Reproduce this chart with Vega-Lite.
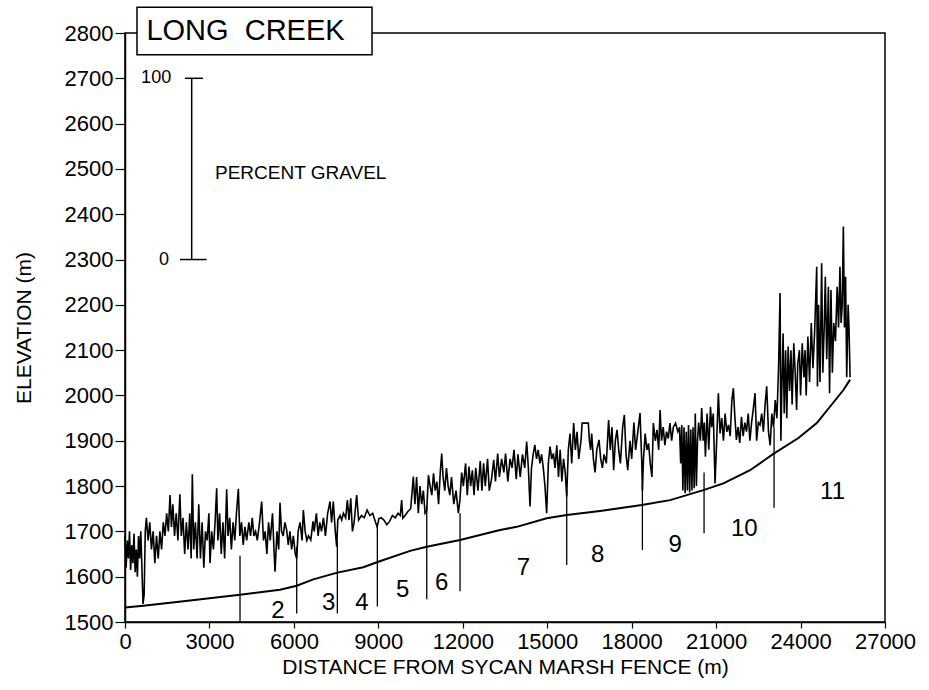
{
  "$schema": "https://vega.github.io/schema/vega-lite/v6.json",
  "autosize": "none",
  "width": 760,
  "height": 589,
  "padding": {"left": 125, "top": 33, "right": 44, "bottom": 68},
  "background": "white",
  "config": {
    "font": "Liberation Sans",
    "view": {"stroke": "black", "strokeWidth": 1.5},
    "axis": {"grid": false, "domainColor": "black", "tickColor": "black", "labelColor": "black", "titleColor": "black", "labelFont": "Liberation Sans", "titleFont": "Liberation Sans", "labelFontSize": 22, "titleFontSize": 21, "titleFontWeight": "normal", "domainWidth": 1.5, "tickWidth": 1.2}
  },
  "datasets": {
    "trace": [
      {"d":0,"e":1690},{"d":40,"e":1620},{"d":80,"e":1680},{"d":120,"e":1640},{"d":160,"e":1700},{"d":200,"e":1615},{"d":240,"e":1670},{"d":280,"e":1630},{"d":320,"e":1695},{"d":360,"e":1610},{"d":400,"e":1660},{"d":440,"e":1600},{"d":480,"e":1690},{"d":520,"e":1640},{"d":560,"e":1700},{"d":600,"e":1620},{"d":640,"e":1540},{"d":680,"e":1560},{"d":720,"e":1700},
      {"d":760,"e":1730},{"d":820,"e":1680},{"d":880,"e":1720},{"d":940,"e":1660},{"d":1000,"e":1700},{"d":1060,"e":1630},{"d":1120,"e":1690},{"d":1180,"e":1640},{"d":1240,"e":1700},{"d":1300,"e":1660},{"d":1360,"e":1720},{"d":1420,"e":1690},{"d":1480,"e":1740},{"d":1540,"e":1700},{"d":1600,"e":1780},{"d":1650,"e":1710},{"d":1700,"e":1760},{"d":1760,"e":1690},{"d":1820,"e":1740},{"d":1880,"e":1680},{"d":1950,"e":1782},{"d":2000,"e":1690},
      {"d":2060,"e":1730},{"d":2120,"e":1650},{"d":2180,"e":1720},{"d":2240,"e":1660},{"d":2300,"e":1740},{"d":2350,"e":1640},{"d":2392,"e":1826},{"d":2440,"e":1660},{"d":2500,"e":1720},{"d":2560,"e":1640},{"d":2620,"e":1760},{"d":2680,"e":1640},{"d":2740,"e":1720},{"d":2800,"e":1620},{"d":2860,"e":1700},{"d":2920,"e":1680},{"d":2980,"e":1740},{"d":3020,"e":1630},{"d":3080,"e":1700},{"d":3140,"e":1660},{"d":3200,"e":1720},{"d":3257,"e":1795},{"d":3300,"e":1680},{"d":3360,"e":1740},{"d":3420,"e":1650},{"d":3480,"e":1720},{"d":3540,"e":1640},{"d":3612,"e":1793},{"d":3660,"e":1690},{"d":3720,"e":1730},{"d":3780,"e":1660},{"d":3840,"e":1720},{"d":3900,"e":1680},{"d":3960,"e":1740},{"d":4027,"e":1794},{"d":4080,"e":1690},{"d":4140,"e":1720},{"d":4200,"e":1670},{"d":4260,"e":1710},{"d":4323,"e":1680},
      {"d":4400,"e":1720},{"d":4460,"e":1690},{"d":4520,"e":1730},{"d":4580,"e":1690},{"d":4640,"e":1700},{"d":4700,"e":1680},{"d":4780,"e":1720},{"d":4856,"e":1766},{"d":4920,"e":1680},{"d":4980,"e":1700},{"d":5040,"e":1650},{"d":5100,"e":1720},{"d":5160,"e":1680},{"d":5240,"e":1740},{"d":5300,"e":1650},{"d":5330,"e":1611},{"d":5400,"e":1700},{"d":5460,"e":1660},{"d":5507,"e":1763},{"d":5560,"e":1700},{"d":5620,"e":1690},{"d":5680,"e":1720},{"d":5744,"e":1703},{"d":5800,"e":1670},{"d":5860,"e":1700},{"d":5920,"e":1660},{"d":5980,"e":1690},{"d":6050,"e":1650},{"d":6100,"e":1640},
      {"d":6150,"e":1700},{"d":6220,"e":1720},{"d":6290,"e":1680},{"d":6336,"e":1747},{"d":6400,"e":1700},{"d":6460,"e":1680},{"d":6520,"e":1690},{"d":6600,"e":1681},{"d":6680,"e":1722},{"d":6720,"e":1700},{"d":6800,"e":1740},{"d":6860,"e":1690},{"d":6920,"e":1720},{"d":6980,"e":1700},{"d":7050,"e":1730},{"d":7120,"e":1690},{"d":7200,"e":1740},{"d":7283,"e":1766},{"d":7340,"e":1720},{"d":7400,"e":1766},{"d":7470,"e":1700},{"d":7520,"e":1666},{"d":7560,"e":1725},{"d":7640,"e":1735},{"d":7700,"e":1725},{"d":7760,"e":1740},{"d":7840,"e":1730},{"d":7900,"e":1769},{"d":7960,"e":1725},{"d":8020,"e":1773},{"d":8080,"e":1700},{"d":8140,"e":1720},{"d":8230,"e":1780},{"d":8300,"e":1725},{"d":8400,"e":1735},{"d":8500,"e":1730},{"d":8600,"e":1747},{"d":8700,"e":1735},{"d":8800,"e":1740},{"d":8900,"e":1720},{"d":8960,"e":1710},{"d":9020,"e":1728},{"d":9100,"e":1730},{"d":9200,"e":1725},{"d":9300,"e":1715},{"d":9400,"e":1722},{"d":9500,"e":1735},{"d":9600,"e":1730},{"d":9700,"e":1740},{"d":9780,"e":1735},{"d":9828,"e":1769},{"d":9870,"e":1729},{"d":9950,"e":1735},{"d":10050,"e":1744},{"d":10150,"e":1750},{"d":10243,"e":1821},
      {"d":10300,"e":1760},{"d":10360,"e":1820},{"d":10420,"e":1740},{"d":10480,"e":1800},{"d":10540,"e":1760},{"d":10600,"e":1790},{"d":10660,"e":1740},{"d":10718,"e":1745},{"d":10780,"e":1824},{"d":10840,"e":1800},{"d":10900,"e":1780},{"d":10960,"e":1828},{"d":11020,"e":1790},{"d":11080,"e":1810},{"d":11140,"e":1760},{"d":11200,"e":1830},{"d":11251,"e":1872},{"d":11300,"e":1820},{"d":11360,"e":1790},{"d":11420,"e":1840},{"d":11480,"e":1800},{"d":11540,"e":1780},{"d":11600,"e":1820},{"d":11680,"e":1760},{"d":11760,"e":1790},{"d":11843,"e":1740},{"d":11900,"e":1770},{"d":11960,"e":1830},{"d":12020,"e":1800},{"d":12100,"e":1850},{"d":12160,"e":1780},{"d":12220,"e":1843},{"d":12280,"e":1800},{"d":12340,"e":1835},{"d":12400,"e":1780},{"d":12460,"e":1840},{"d":12540,"e":1790},{"d":12620,"e":1855},{"d":12680,"e":1790},{"d":12740,"e":1850},{"d":12800,"e":1800},{"d":12880,"e":1860},{"d":12940,"e":1790},{"d":13020,"e":1815},{"d":13100,"e":1858},{"d":13160,"e":1810},{"d":13240,"e":1872},{"d":13300,"e":1820},{"d":13380,"e":1860},{"d":13460,"e":1830},{"d":13520,"e":1872},{"d":13600,"e":1810},{"d":13680,"e":1860},{"d":13750,"e":1840},{"d":13820,"e":1880},{"d":13900,"e":1815},{"d":13960,"e":1870},{"d":14040,"e":1820},{"d":14120,"e":1870},{"d":14200,"e":1840},{"d":14270,"e":1898},{"d":14330,"e":1840},{"d":14388,"e":1755},{"d":14440,"e":1839},{"d":14500,"e":1870},{"d":14560,"e":1891},{"d":14620,"e":1860},{"d":14680,"e":1880},{"d":14740,"e":1850},{"d":14800,"e":1870},{"d":14860,"e":1840},{"d":14920,"e":1800},{"d":14980,"e":1740},{"d":15040,"e":1850},{"d":15100,"e":1887},{"d":15160,"e":1860},{"d":15220,"e":1872},
      {"d":15278,"e":1840},{"d":15340,"e":1890},{"d":15400,"e":1820},{"d":15460,"e":1880},{"d":15520,"e":1810},{"d":15580,"e":1860},{"d":15640,"e":1830},{"d":15692,"e":1777},{"d":15750,"e":1880},{"d":15810,"e":1916},{"d":15870,"e":1850},{"d":15940,"e":1939},{"d":16000,"e":1880},{"d":16060,"e":1920},{"d":16120,"e":1860},{"d":16200,"e":1900},{"d":16240,"e":1939},{"d":16460,"e":1939},{"d":16500,"e":1900},{"d":16540,"e":1880},{"d":16580,"e":1916},{"d":16640,"e":1860},{"d":16700,"e":1830},{"d":16760,"e":1880},{"d":16840,"e":1902},{"d":16900,"e":1860},{"d":16960,"e":1840},{"d":17020,"e":1870},{"d":17100,"e":1850},{"d":17180,"e":1946},{"d":17240,"e":1880},{"d":17300,"e":1930},{"d":17360,"e":1835},{"d":17420,"e":1900},{"d":17480,"e":1924},{"d":17540,"e":1880},{"d":17600,"e":1850},{"d":17680,"e":1930},{"d":17740,"e":1957},{"d":17800,"e":1870},{"d":17860,"e":1835},{"d":17940,"e":1900},{"d":18000,"e":1860},{"d":18080,"e":1940},{"d":18140,"e":1880},{"d":18220,"e":1920},{"d":18297,"e":1961},{"d":18360,"e":1850},{"d":18381,"e":1790},{"d":18420,"e":1860},{"d":18480,"e":1916},{"d":18540,"e":1880},{"d":18600,"e":1894},{"d":18660,"e":1850},{"d":18720,"e":1820},{"d":18770,"e":1939},{"d":18840,"e":1900},{"d":18900,"e":1924},{"d":18960,"e":1880},{"d":19010,"e":1968},{"d":19060,"e":1900},{"d":19120,"e":1930},{"d":19180,"e":1890},{"d":19240,"e":1920},{"d":19300,"e":1905},{"d":19360,"e":1939},{"d":19420,"e":1900},{"d":19480,"e":1930},{"d":19560,"e":1939},{"d":19640,"e":1920},{"d":19700,"e":1930},{"d":19740,"e":1850},
      {"d":19780,"e":1935},{"d":19820,"e":1790},{"d":19860,"e":1930},{"d":19900,"e":1784},{"d":19940,"e":1920},{"d":19980,"e":1790},{"d":20020,"e":1935},{"d":20060,"e":1786},{"d":20100,"e":1925},{"d":20140,"e":1790},{"d":20180,"e":1930},{"d":20220,"e":1795},{"d":20260,"e":1960},{"d":20300,"e":1800},{"d":20340,"e":1900},{"d":20380,"e":1940},{"d":20440,"e":1900},{"d":20488,"e":1972},
      {"d":20540,"e":1900},{"d":20580,"e":1940},{"d":20620,"e":1865},{"d":20680,"e":1960},{"d":20740,"e":1880},{"d":20800,"e":1975},{"d":20844,"e":1930},{"d":20900,"e":1960},{"d":20962,"e":1806},{"d":21020,"e":1900},{"d":21080,"e":2005},{"d":21140,"e":1916},{"d":21200,"e":1950},{"d":21260,"e":1900},{"d":21320,"e":1960},{"d":21380,"e":1920},{"d":21440,"e":1935},{"d":21500,"e":1910},{"d":21560,"e":1990},{"d":21613,"e":2016},{"d":21660,"e":1960},{"d":21720,"e":1902},{"d":21780,"e":1930},{"d":21840,"e":1895},{"d":21900,"e":1953},{"d":21960,"e":1910},{"d":22020,"e":1940},{"d":22080,"e":1920},{"d":22140,"e":1960},{"d":22200,"e":1900},{"d":22260,"e":1940},{"d":22320,"e":1970},{"d":22383,"e":2005},{"d":22440,"e":1900},{"d":22500,"e":1940},{"d":22560,"e":1935},{"d":22620,"e":1960},{"d":22680,"e":1920},{"d":22740,"e":1980},{"d":22797,"e":2020},{"d":22860,"e":1920},{"d":22920,"e":1890},{"d":22980,"e":1960},{"d":23040,"e":1930},{"d":23100,"e":1990},{"d":23160,"e":1950},{"d":23220,"e":2064},{"d":23272,"e":2226},{"d":23300,"e":1900},
      {"d":23330,"e":2000},{"d":23380,"e":2137},{"d":23420,"e":1960},{"d":23470,"e":2100},{"d":23510,"e":1950},{"d":23560,"e":2108},{"d":23610,"e":2010},{"d":23660,"e":2100},{"d":23700,"e":1980},{"d":23760,"e":2115},{"d":23810,"e":2050},{"d":23860,"e":1968},{"d":23900,"e":2070},{"d":23960,"e":2100},{"d":24000,"e":2000},{"d":24060,"e":2115},{"d":24120,"e":2040},{"d":24160,"e":2100},{"d":24200,"e":2000},{"d":24260,"e":2130},{"d":24320,"e":2030},{"d":24380,"e":2160},{"d":24440,"e":2060},{"d":24500,"e":2140},{"d":24574,"e":2284},{"d":24600,"e":2020},{"d":24640,"e":2200},{"d":24690,"e":2030},{"d":24750,"e":2292},{"d":24790,"e":2050},{"d":24840,"e":2150},{"d":24880,"e":2262},{"d":24930,"e":2080},{"d":24990,"e":2240},{"d":25030,"e":2005},{"d":25080,"e":2233},{"d":25130,"e":2050},{"d":25180,"e":2160},{"d":25240,"e":2120},{"d":25300,"e":2240},{"d":25350,"e":2150},{"d":25400,"e":2284},{"d":25440,"e":2160},{"d":25480,"e":2200},{"d":25521,"e":2373},{"d":25560,"e":2150},{"d":25600,"e":2262},{"d":25640,"e":2040},{"d":25690,"e":2200},{"d":25720,"e":2150},{"d":25760,"e":2040}
    ],
    "bed": [
      {"d":0,"e":1532},{"d":650,"e":1536},{"d":2000,"e":1545},{"d":4086,"e":1560},{"d":5507,"e":1571},{"d":6100,"e":1580},{"d":6690,"e":1594},{"d":7544,"e":1609},{"d":8468,"e":1621},{"d":9000,"e":1633},{"d":10127,"e":1657},{"d":10720,"e":1666},{"d":11903,"e":1681},{"d":13324,"e":1703},{"d":13917,"e":1710},{"d":14983,"e":1729},{"d":15693,"e":1736},{"d":16877,"e":1745},{"d":18358,"e":1758},{"d":19365,"e":1769},{"d":20548,"e":1791},{"d":21259,"e":1806},{"d":22206,"e":1835},{"d":23035,"e":1871},{"d":23924,"e":1906},{"d":24577,"e":1939},{"d":25522,"e":2012},{"d":25760,"e":2035}
    ],
    "reaches": [
      {"d":4086,"lo":1500,"hi":1646},{"d":6100,"lo":1519,"hi":1666},{"d":7544,"lo":1519,"hi":1680},{"d":8965,"lo":1534,"hi":1715},{"d":10720,"lo":1550,"hi":1755},{"d":11903,"lo":1568,"hi":1740},{"d":15693,"lo":1626,"hi":1790},{"d":18381,"lo":1659,"hi":1800},{"d":20572,"lo":1696,"hi":1830},{"d":23059,"lo":1752,"hi":1930}
    ],
    "reachLabels": [
      {"d":5437,"e":1524,"t":"2"},{"d":7240,"e":1541,"t":"3"},{"d":8420,"e":1543,"t":"4"},{"d":9866,"e":1571,"t":"5"},{"d":11252,"e":1586,"t":"6"},{"d":14152,"e":1619,"t":"7"},{"d":16788,"e":1648,"t":"8"},{"d":19542,"e":1670,"t":"9"},{"d":22000,"e":1706,"t":"10"},{"d":25137,"e":1786,"t":"11"}
    ],
    "gravelBar": [
      {"d":2369,"d2":2369,"lo":2300,"hi":2700},
      {"d":2132,"d2":2771,"lo":2700,"hi":2700},
      {"d":1954,"d2":2901,"lo":2300,"hi":2300}
    ],
    "gravelText": [
      {"d":1640,"e":2700,"t":"100","a":"right"},
      {"d":1560,"e":2300,"t":"0","a":"right"},
      {"d":3198,"e":2491,"t":"PERCENT GRAVEL","a":"left"}
    ],
    "titleBox": [
      {"d":426,"d2":8776,"lo":2752,"hi":2857,"t":"LONG\u00a0\u00a0CREEK","tx":760,"ty":2804}
    ]
  },
  "layer": [
    {
      "data": {"name": "trace"},
      "mark": {"type": "line", "color": "black", "strokeWidth": 1.6},
      "encoding": {
        "x": {"field": "d", "type": "quantitative", "scale": {"domain": [0, 27000], "nice": false, "zero": false},
              "axis": {"values": [0,3000,6000,9000,12000,15000,18000,21000,24000,27000], "tickSize": 6, "labelPadding": 3, "labelFlush": false, "title": "DISTANCE FROM SYCAN MARSH FENCE (m)", "titlePadding": 4, "format": "d"}},
        "y": {"field": "e", "type": "quantitative", "scale": {"domain": [1500, 2800], "nice": false, "zero": false},
              "axis": {"values": [1500,1600,1700,1800,1900,2000,2100,2200,2300,2400,2500,2600,2700,2800], "tickSize": 10, "labelPadding": 2, "title": "ELEVATION (m)", "titlePadding": 30, "format": "d", "labelFlush": false}}
      }
    },
    {
      "data": {"name": "bed"},
      "mark": {"type": "line", "color": "black", "strokeWidth": 2},
      "encoding": {
        "x": {"field": "d", "type": "quantitative"},
        "y": {"field": "e", "type": "quantitative"}
      }
    },
    {
      "data": {"name": "reaches"},
      "mark": {"type": "rule", "color": "black", "strokeWidth": 1.3},
      "encoding": {
        "x": {"field": "d", "type": "quantitative"},
        "y": {"field": "lo", "type": "quantitative"},
        "y2": {"field": "hi"}
      }
    },
    {
      "data": {"name": "reachLabels"},
      "mark": {"type": "text", "fontSize": 24, "color": "black", "align": "center", "baseline": "middle", "font": "Liberation Sans"},
      "encoding": {
        "x": {"field": "d", "type": "quantitative"},
        "y": {"field": "e", "type": "quantitative"},
        "text": {"field": "t"}
      }
    },
    {
      "data": {"name": "gravelBar"},
      "mark": {"type": "rule", "color": "black", "strokeWidth": 1.5},
      "encoding": {
        "x": {"field": "d", "type": "quantitative"},
        "x2": {"field": "d2"},
        "y": {"field": "lo", "type": "quantitative"},
        "y2": {"field": "hi"}
      }
    },
    {
      "data": {"name": "gravelText"},
      "transform": [{"filter": "datum.a == 'right'"}],
      "mark": {"type": "text", "fontSize": 18, "color": "black", "align": "right", "baseline": "middle", "font": "Liberation Sans"},
      "encoding": {
        "x": {"field": "d", "type": "quantitative"},
        "y": {"field": "e", "type": "quantitative"},
        "text": {"field": "t"}
      }
    },
    {
      "data": {"name": "gravelText"},
      "transform": [{"filter": "datum.a == 'left'"}],
      "mark": {"type": "text", "fontSize": 19, "color": "black", "align": "left", "baseline": "middle", "font": "Liberation Sans"},
      "encoding": {
        "x": {"field": "d", "type": "quantitative"},
        "y": {"field": "e", "type": "quantitative"},
        "text": {"field": "t"}
      }
    },
    {
      "data": {"name": "titleBox"},
      "mark": {"type": "rect", "fill": "white", "stroke": "black", "strokeWidth": 1.5},
      "encoding": {
        "x": {"field": "d", "type": "quantitative"},
        "x2": {"field": "d2"},
        "y": {"field": "lo", "type": "quantitative"},
        "y2": {"field": "hi"}
      }
    },
    {
      "data": {"name": "titleBox"},
      "mark": {"type": "text", "fontSize": 29, "color": "black", "align": "left", "baseline": "middle", "font": "Liberation Sans"},
      "encoding": {
        "x": {"field": "tx", "type": "quantitative"},
        "y": {"field": "ty", "type": "quantitative"},
        "text": {"field": "t"}
      }
    }
  ]
}
